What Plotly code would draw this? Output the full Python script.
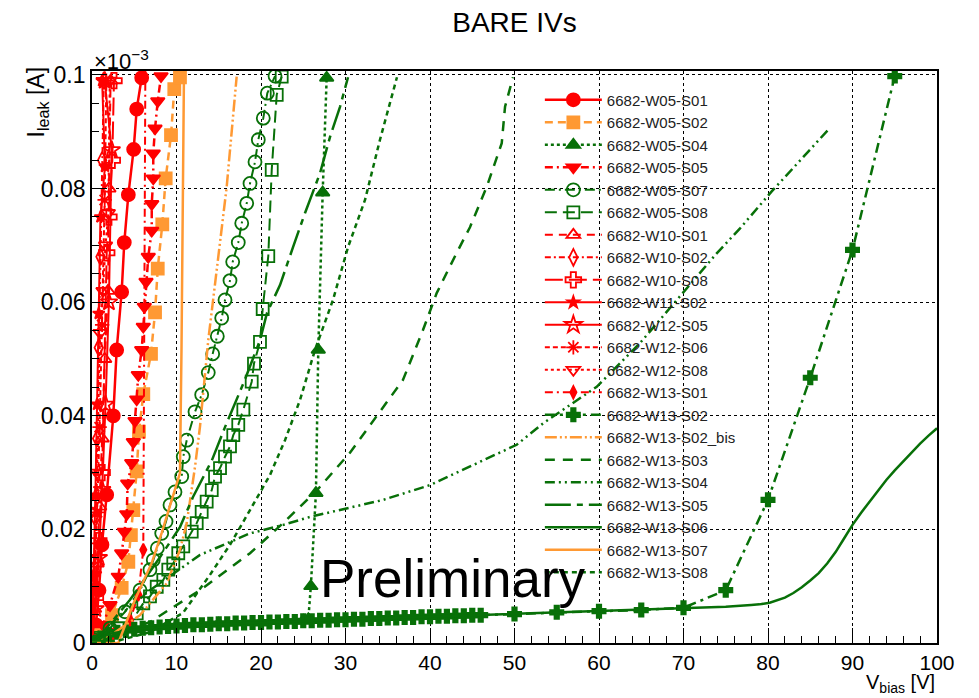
import plotly.graph_objects as go

# ---------------- data (x: V_bias [V], y: I_leak [x1e-3 A]) ----------------
V_W05_S01 = [0.0, 0.12, 0.47, 0.83, 1.18, 1.74, 2.52, 2.92, 3.51, 3.82, 4.30, 4.93, 5.29, 5.88]
I_W05_S01 = [0.0, 0.0005, 0.0032, 0.0093, 0.0173, 0.0261, 0.0400, 0.0516, 0.0618, 0.0705, 0.0789, 0.0869, 0.0940, 0.0995]

V_W05_S02 = [0.0, 0.95, 2.37, 3.51, 4.30, 4.60, 4.89, 5.29, 5.56, 6.07, 6.98, 7.46, 7.78, 8.32, 8.72, 9.35, 9.74, 10.41]
I_W05_S02 = [0.0, 0.0014, 0.0049, 0.0097, 0.0143, 0.0190, 0.0234, 0.0302, 0.0372, 0.0438, 0.0509, 0.0582, 0.0659, 0.0737, 0.0818, 0.0894, 0.0975, 0.0996]

V_W05_S04 = [0, 5, 10, 15, 20, 25, 25.6, 25.9, 26.5, 26.78, 27.3, 27.77]
I_W05_S04 = [0, 0.0024, 0.0030, 0.0034, 0.0036, 0.0039, 0.0042, 0.0100, 0.0264, 0.0516, 0.0793, 0.0995]

V_W05_S05 = [0, 0.36, 1.30, 2.13, 3.11, 3.51, 3.82, 4.11, 4.22, 4.70, 4.89, 5.09, 5.29, 5.48, 5.88, 6.07,
             6.19, 6.39, 6.66, 7.07, 7.07, 7.25, 7.25, 7.46, 7.78, 8.17]
I_W05_S05 = [0, 0.0009, 0.0032, 0.0067, 0.0117, 0.0158, 0.0196, 0.0227, 0.0281, 0.0317, 0.0354, 0.0391,
             0.0429, 0.0472, 0.0516, 0.0557, 0.0592, 0.0636, 0.0680, 0.0726, 0.0773, 0.0818, 0.0862,
             0.0906, 0.0954, 0.0998]

V_W05_S07 = [0, 0.36, 2.13, 3.91, 5.68, 6.86, 7.25, 7.73, 8.25, 8.76, 9.23, 9.82, 10.62, 10.80, 11.21,
             12.19, 12.98, 13.76, 14.28, 14.83, 15.35, 15.74, 16.33, 16.65, 17.31, 17.72, 18.31, 18.70,
             19.29, 19.68, 20.27, 20.75, 21.66]
I_W05_S07 = [0, 0.0005, 0.0026, 0.0055, 0.0093, 0.0129, 0.0146, 0.0167, 0.0193, 0.0214, 0.0243, 0.0266,
             0.0293, 0.0328, 0.0357, 0.0407, 0.0437, 0.0476, 0.0509, 0.0540, 0.0572, 0.0604, 0.0638,
             0.0671, 0.0705, 0.0739, 0.0774, 0.0809, 0.0847, 0.0886, 0.0924, 0.0968, 0.0998]

V_W05_S08 = [0, 0.95, 3.31, 5.29, 6.07, 6.86, 7.66, 8.44, 9.03, 9.62, 10.21, 10.80, 11.80, 12.39, 12.98,
             13.57, 14.17, 14.56, 15.15, 15.74, 16.33, 16.72, 17.31, 17.91, 18.90, 19.17, 19.88, 20.20,
             20.86, 21.27, 21.86, 22.45]
I_W05_S08 = [0, 0.0009, 0.0026, 0.0052, 0.0070, 0.0082, 0.0099, 0.0111, 0.0129, 0.0140, 0.0158, 0.0170,
             0.0196, 0.0211, 0.0231, 0.0249, 0.0269, 0.0293, 0.0308, 0.0328, 0.0346, 0.0366, 0.0384,
             0.0411, 0.0460, 0.0492, 0.0530, 0.0588, 0.0681, 0.0833, 0.0965, 0.0997]

V_W10_S01 = [0, 0.3, 0.6, 0.9, 1.2, 1.5, 1.9, 2.0, 2.2]
I_W10_S01 = [0, 0.006, 0.014, 0.024, 0.036, 0.050, 0.062, 0.080, 0.099]

V_W10_S02 = [0, 0.2, 0.4, 0.6, 0.8, 1.0, 1.2, 1.4]
I_W10_S02 = [0, 0.010, 0.022, 0.036, 0.052, 0.068, 0.085, 0.099]

V_W10_S08 = [0, 0.4, 0.8, 1.2, 1.74, 2.0, 2.4, 2.6]
I_W10_S08 = [0, 0.008, 0.018, 0.030, 0.0687, 0.075, 0.085, 0.099]

V_W11_S02 = [0, 0.2, 0.4, 0.6, 0.8, 1.0, 1.54, 1.2]
I_W11_S02 = [0, 0.012, 0.026, 0.042, 0.058, 0.075, 0.0839, 0.099]

V_W12_S05 = [0, 0.4, 0.8, 1.2, 1.6, 2.0, 2.33, 1.5]
I_W12_S05 = [0, 0.006, 0.015, 0.027, 0.042, 0.060, 0.0868, 0.099]

V_W12_S06 = [0, 0.3, 0.6, 0.9, 1.2, 1.5, 1.7]
I_W12_S06 = [0, 0.010, 0.023, 0.038, 0.056, 0.078, 0.099]

V_W12_S08 = [0, 0.3, 0.6, 0.95, 1.3, 1.6, 1.93, 2.1]
I_W12_S08 = [0, 0.012, 0.030, 0.0546, 0.062, 0.070, 0.0757, 0.099]

V_W13_S01 = [0, 2.5, 4.5, 5.48, 6.07, 6.4]
I_W13_S01 = [0, 0.0015, 0.0040, 0.0085, 0.0164, 0.1300]

V_W13_S02 = [0, 1, 2, 3, 4, 5, 6, 7, 8, 9, 10, 11, 12, 13, 14, 15, 16, 17, 18, 19, 20, 21, 22, 23, 24, 25,
             26, 27, 28, 29, 30, 31, 32, 33, 34, 35, 36, 37, 38, 39, 40, 41, 42, 43, 44, 45, 46,
             50, 55, 60, 65, 70, 75, 80, 85, 90, 95]
I_W13_S02 = [0.0, 0.0009, 0.0015, 0.0019, 0.0022, 0.0024, 0.0026, 0.0027, 0.0028, 0.0029, 0.0030, 0.0031,
             0.0032, 0.0032, 0.0033, 0.0034, 0.0034, 0.0035, 0.0035, 0.0036, 0.0036, 0.0037, 0.0037,
             0.0038, 0.0038, 0.0039, 0.0039, 0.0040, 0.0040, 0.0041, 0.0041, 0.0042, 0.0042, 0.0043,
             0.0043, 0.0044, 0.0044, 0.0045, 0.0045, 0.0046, 0.0046, 0.0047, 0.0047, 0.0048, 0.0048,
             0.0049, 0.0049, 0.0051, 0.0054, 0.0056, 0.0058, 0.0062, 0.0093, 0.0252, 0.0467, 0.0692, 0.0998]

V_W13_S02_bis = [0, 2.72, 5.68, 8.84, 10.41, 11.21, 12.19, 12.78, 13.76, 15.94, 17.12]
I_W13_S02_bis = [0, 0.0019, 0.0049, 0.0105, 0.0164, 0.0211, 0.0310, 0.0381, 0.0533, 0.0803, 0.0997]

V_W13_S03 = [0, 6.86, 12.78, 18.70, 22.60, 26.63, 30.53, 36.80, 39.17, 40.79, 43.16, 44.73, 46.71, 48.49, 48.88, 49.82]
I_W13_S03 = [0, 0.0037, 0.0093, 0.0158, 0.0211, 0.0269, 0.0335, 0.0463, 0.0551, 0.0616, 0.0687, 0.0732,
             0.0803, 0.0880, 0.0944, 0.0996]

V_W13_S04 = [0, 3.31, 6.86, 12.78, 18.70, 22.64, 25.80, 30.14, 34.47, 40.0, 44.34, 50.26, 53.41, 59.73,
             64.85, 70.18, 73.93, 76.69, 80.44, 87.10]
I_W13_S04 = [0, 0.0049, 0.0093, 0.0155, 0.0193, 0.0208, 0.0222, 0.0237, 0.0252, 0.0278, 0.0308, 0.0349,
             0.0387, 0.0451, 0.0528, 0.0621, 0.0686, 0.0730, 0.0795, 0.0903]

V_W13_S05 = [0, 1.54, 4.5, 8.0, 10.41, 11.95, 14.20, 15.74, 18.0, 19.88, 20.71, 22.25, 23.79, 25.21,
             26.98, 28.17, 29.35, 30.30]
I_W13_S05 = [0, 0.0023, 0.0076, 0.0150, 0.0204, 0.0257, 0.0322, 0.0380, 0.0460, 0.0533, 0.0581, 0.0630,
             0.0697, 0.0757, 0.0827, 0.0891, 0.0944, 0.0996]

V_W13_S06 = [0, 2, 5, 10, 20, 30, 40, 50, 60, 70, 75, 78, 79, 80.2, 81, 82, 83, 84, 85, 86, 87, 88, 89,
             90, 91, 92, 93, 94, 95, 96, 97, 98, 99, 100]
I_W13_S06 = [0, 0.0016, 0.0024, 0.0030, 0.0036, 0.0041, 0.0046, 0.0051, 0.0056, 0.0061, 0.0064, 0.0067,
             0.0068, 0.0071, 0.0075, 0.0080, 0.0088, 0.0098, 0.0110, 0.0123, 0.0140, 0.0160, 0.0184,
             0.0208, 0.0229, 0.0249, 0.0268, 0.0287, 0.0304, 0.0320, 0.0336, 0.0351, 0.0365, 0.0378]

V_W13_S07 = [0, 3.11, 5.09, 7.07, 8.25, 9.43, 10.41, 10.59, 10.71, 10.83, 10.90]
I_W13_S07 = [0, 0.0, 0.0076, 0.0141, 0.0194, 0.0252, 0.0299, 0.0516, 0.0780, 0.0998, 0.1030]

V_W13_S08 = [0, 3.31, 6.86, 10.77, 13.96, 16.33, 18.70, 21.07, 22.84, 24.62, 26.39, 28.52, 30.30, 32.31, 34.08, 36.09]
I_W13_S08 = [0, 0.0005, 0.0019, 0.0053, 0.0120, 0.0173, 0.0234, 0.0296, 0.0357, 0.0428, 0.0516, 0.0604,
             0.0697, 0.0780, 0.0886, 0.0996]

RED = "#ff0000"
ORANGE = "#ff9933"
GREEN = "#087008"

series = [
    ("6682-W05-S01", V_W05_S01, I_W05_S01, RED, "solid", "circle", 13, 2.5),
    ("6682-W05-S02", V_W05_S02, I_W05_S02, ORANGE, "8px,5px", "square", 12, 2.5),
    ("6682-W05-S04", V_W05_S04, I_W05_S04, GREEN, "dot", "triangle-up", 12, 2.5),
    ("6682-W05-S05", V_W05_S05, I_W05_S05, RED, "8px,4px,2px,4px", "triangle-down", 12, 2.5),
    ("6682-W05-S07", V_W05_S07, I_W05_S07, GREEN, "10px,4px,2px,4px", "circle-open", 13, 2),
    ("6682-W05-S08", V_W05_S08, I_W05_S08, GREEN, "12px,6px", "square-open", 12, 2),
    ("6682-W10-S01", V_W10_S01, I_W10_S01, RED, "8px,6px", "triangle-up-open", 12, 2),
    ("6682-W10-S02", V_W10_S02, I_W10_S02, RED, "6px,3px,2px,3px", "diamond-tall-open", 12, 2),
    ("6682-W10-S08", V_W10_S08, I_W10_S08, RED, "18px,6px", "cross-open", 13, 2),
    ("6682-W11-S02", V_W11_S02, I_W11_S02, RED, "solid", "star", 9, 2),
    ("6682-W12-S05", V_W12_S05, I_W12_S05, RED, "solid", "star-open", 13, 2),
    ("6682-W12-S06", V_W12_S06, I_W12_S06, RED, "5px,3px", "asterisk-open", 12, 2),
    ("6682-W12-S08", V_W12_S08, I_W12_S08, RED, "dot", "triangle-down-open", 12, 2),
    ("6682-W13-S01", V_W13_S01, I_W13_S01, RED, "8px,4px,2px,4px", "diamond-tall", 9, 2),
    ("6682-W13-S02", V_W13_S02, I_W13_S02, GREEN, "10px,5px,3px,5px", "cross", 11, 2.5),
    ("6682-W13-S02_bis", V_W13_S02_bis, I_W13_S02_bis, ORANGE, "12px,3px,2px,3px,2px,3px", None, 0, 2.5),
    ("6682-W13-S03", V_W13_S03, I_W13_S03, GREEN, "10px,8px", None, 0, 2.5),
    ("6682-W13-S04", V_W13_S04, I_W13_S04, GREEN, "10px,4px,2px,4px,2px,4px", None, 0, 2.5),
    ("6682-W13-S05", V_W13_S05, I_W13_S05, GREEN, "26px,6px,6px,6px", None, 0, 2.5),
    ("6682-W13-S06", V_W13_S06, I_W13_S06, GREEN, "solid", None, 0, 2.5),
    ("6682-W13-S07", V_W13_S07, I_W13_S07, ORANGE, "solid", None, 0, 2.5),
    ("6682-W13-S08", V_W13_S08, I_W13_S08, GREEN, "5px,4px", None, 0, 2.5),
]

fig = go.Figure()
for name, xs, ys, col, dash, sym, msize, lw in series:
    if sym:
        fig.add_trace(go.Scatter(
            x=xs, y=ys, name=name, mode="lines+markers",
            line=dict(color=col, width=lw, dash=dash),
            marker=dict(symbol=sym, size=msize, color=col,
                        line=dict(color=col, width=1.8))))
    else:
        fig.add_trace(go.Scatter(
            x=xs, y=ys, name=name, mode="lines",
            line=dict(color=col, width=lw, dash=dash)))

FONT = "Liberation Sans, Arial, Helvetica, sans-serif"

fig.update_layout(
    width=979, height=698,
    margin=dict(l=92, r=42, t=71, b=55),
    paper_bgcolor="white", plot_bgcolor="white",
    font=dict(family=FONT, color="black", size=20),
    title=dict(text="BARE IVs", x=0.5, xref="paper", y=0.968, yanchor="middle",
               font=dict(size=28, family=FONT, color="black")),
    showlegend=True,
    legend=dict(x=0.53, y=0.978, xanchor="left", yanchor="top",
                bgcolor="rgba(0,0,0,0)", borderwidth=0,
                font=dict(size=15, family=FONT, color="#222"),
                itemwidth=57, tracegroupgap=0, itemsizing="trace"),
)

fig.update_xaxes(
    range=[0, 100], dtick=10, tick0=0,
    ticks="inside", ticklen=15, tickwidth=1.2, tickcolor="black",
    minor=dict(dtick=2, ticks="inside", ticklen=7, tickwidth=1.2, tickcolor="black", showgrid=False),
    showgrid=True, gridcolor="black", griddash="dot", gridwidth=1,
    showline=True, linecolor="black", linewidth=1.8, mirror=True,
    zeroline=False, tickfont=dict(size=21, family=FONT, color="black"),
)
fig.update_yaxes(
    range=[0, 0.1007], dtick=0.02, tick0=0,
    ticks="inside", ticklen=15, tickwidth=1.2, tickcolor="black",
    minor=dict(dtick=0.005, ticks="inside", ticklen=7, tickwidth=1.2, tickcolor="black", showgrid=False),
    showgrid=True, gridcolor="black", griddash="dot", gridwidth=1,
    showline=True, linecolor="black", linewidth=1.8, mirror=True,
    zeroline=False, tickfont=dict(size=23, family=FONT, color="black"),
)

fig.add_annotation(text="I<sub>leak</sub> [A]", textangle=-90, xref="paper", yref="paper",
                   x=-0.064, y=0.945, xanchor="center", yanchor="middle", showarrow=False,
                   font=dict(size=23, family=FONT, color="black"))
fig.add_annotation(text="×10<sup>−3</sup>", xref="paper", yref="paper",
                   x=0.0, y=1.0, xanchor="left", yanchor="bottom", yshift=-5, showarrow=False,
                   font=dict(size=22, family=FONT, color="black"))
fig.add_annotation(text="V<sub>bias</sub> [V]", xref="paper", yref="paper",
                   x=1.0, y=-0.0955, xanchor="right", yanchor="bottom", showarrow=False,
                   font=dict(size=20, family=FONT, color="black"))
fig.add_annotation(text="Preliminary", xref="paper", yref="paper",
                   x=0.268, y=0.113, xanchor="left", yanchor="middle", showarrow=False,
                   font=dict(size=53, family=FONT, color="black"))

fig.write_html("out.html")
